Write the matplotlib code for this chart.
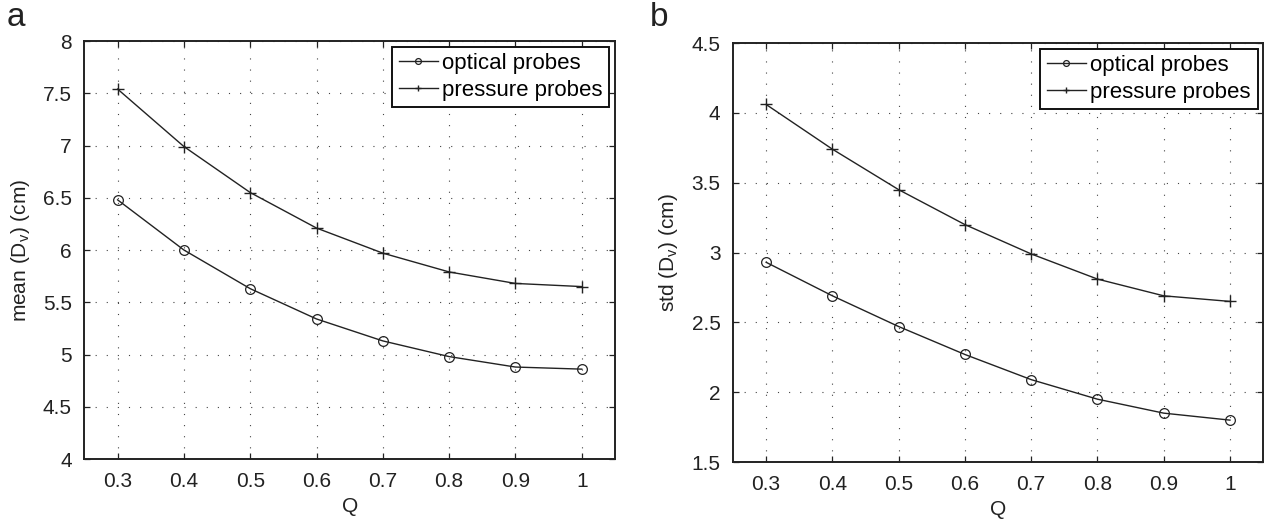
import matplotlib
matplotlib.use("Agg")
import matplotlib.pyplot as plt
from matplotlib.ticker import MultipleLocator, FormatStrFormatter

plt.rcParams['font.family'] = ['Liberation Sans', 'DejaVu Sans']
plt.rcParams['mathtext.fontset'] = 'custom'
plt.rcParams['mathtext.rm'] = 'Liberation Sans'

Q = [0.3, 0.4, 0.5, 0.6, 0.7, 0.8, 0.9, 1.0]
mean_optical = [6.48, 6.00, 5.63, 5.34, 5.13, 4.98, 4.88, 4.86]
mean_pressure = [7.54, 6.99, 6.55, 6.21, 5.97, 5.79, 5.68, 5.65]
std_optical = [2.93, 2.69, 2.47, 2.27, 2.09, 1.95, 1.85, 1.80]
std_pressure = [4.06, 3.74, 3.45, 3.20, 2.99, 2.81, 2.69, 2.65]
xticks = [0.3, 0.4, 0.5, 0.6, 0.7, 0.8, 0.9, 1]
xticklabels = ['0.3', '0.4', '0.5', '0.6', '0.7', '0.8', '0.9', '1']

INK = '#222222'
FS = 15

fig = plt.figure(figsize=(12.66, 5.21), dpi=100)
ax1 = fig.add_axes([0.0667, 0.119, 0.419, 0.8023])
ax2 = fig.add_axes([0.579, 0.1132, 0.4187, 0.8042])

def style(ax, ylim, ylabel):
    ax.set_xlim(0.25, 1.05)
    ax.set_ylim(*ylim)
    ax.set_xticks(xticks)
    ax.set_xticklabels(xticklabels)
    ax.yaxis.set_major_locator(MultipleLocator(0.5))
    ax.yaxis.set_major_formatter(FormatStrFormatter('%g'))
    ax.tick_params(direction='in', top=True, right=True, labelsize=FS,
                   length=4.5, width=0.9, colors=INK)
    ax.tick_params(axis='x', pad=9)
    ax.tick_params(axis='y', pad=9)
    ax.grid(True, color='#444444', linestyle=(0, (1, 9)), linewidth=0.8)
    for s in ax.spines.values():
        s.set_linewidth(1.4)
        s.set_color(INK)
    ax.set_xlabel('Q', fontsize=FS, color=INK, labelpad=5)
    ax.set_ylabel(ylabel, fontsize=FS, color=INK, labelpad=8)

for ax, o, p in [(ax1, mean_optical, mean_pressure), (ax2, std_optical, std_pressure)]:
    ax.plot(Q, o, color=INK, lw=1.0, marker='o', ms=7, mfc='none', mew=0.9, label='optical probes')
    ax.plot(Q, p, color=INK, lw=1.0, marker='+', ms=8, mew=1.0, label='pressure probes')
    leg = ax.legend(loc='upper right', fontsize=16, frameon=True, fancybox=False,
                    borderaxespad=0.25, handlelength=1.75, handletextpad=0.2,
                    labelspacing=0.25, borderpad=0.3, markerscale=0.6)
    leg.get_frame().set_edgecolor('#111111')
    leg.get_frame().set_linewidth(1.4)
    leg.get_frame().set_alpha(1)

style(ax1, (4, 8), 'mean (D$_\\mathrm{v}$) (cm)')
style(ax2, (1.5, 4.5), 'std (D$_\\mathrm{v}$) (cm)')

fig.text(0.005, 0.950, 'a', fontsize=24, color=INK, va='baseline')
fig.text(0.513, 0.950, 'b', fontsize=24, color=INK, va='baseline')

fig.savefig('out.png', dpi=100)
